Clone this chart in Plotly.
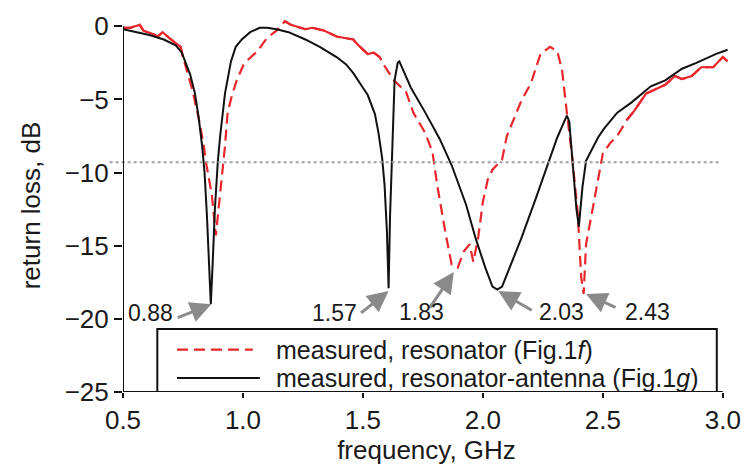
import plotly.graph_objects as go

# ---------------- data ----------------
f_black = [0.50, 0.55, 0.61, 0.67, 0.72, 0.745, 0.76, 0.78, 0.80, 0.815, 0.83, 0.84, 0.85, 0.858,
           0.866, 0.874, 0.883, 0.895, 0.905, 0.925, 0.95, 0.97, 0.995, 1.03, 1.07, 1.10, 1.14,
           1.19, 1.26, 1.32, 1.39, 1.43, 1.46, 1.50, 1.52, 1.55, 1.565, 1.58, 1.59, 1.60, 1.607,
           1.613, 1.618, 1.625, 1.632, 1.645, 1.652, 1.66, 1.70, 1.76, 1.82, 1.87, 1.93, 1.97,
           2.01, 2.04, 2.06, 2.08, 2.12, 2.16, 2.22, 2.27, 2.31, 2.35, 2.36, 2.375, 2.39, 2.40,
           2.415, 2.43, 2.455, 2.48, 2.505, 2.56, 2.62, 2.70, 2.76, 2.83, 2.89, 2.97, 3.02]
rl_black = [-0.2, -0.4, -0.6, -0.9, -1.3, -1.8, -2.4, -3.3, -4.6, -6.2, -8.2, -10.0, -13.0, -16.1,
            -19.0, -16.1, -12.5, -9.3, -7.5, -4.6, -2.4, -1.4, -0.9, -0.4, -0.1, -0.1, -0.2,
            -0.4, -0.9, -1.4, -2.1, -2.6, -3.2, -4.2, -4.7, -6.0, -7.3, -9.0, -10.8, -14.0, -17.9,
            -13.0, -10.5, -6.5, -3.7, -2.5, -2.4, -2.7, -4.2, -5.9, -7.7, -9.5, -12.2, -14.5,
            -16.5, -17.8, -18.0, -17.8, -16.2, -14.5, -11.8, -9.4, -7.6, -6.1, -6.5, -9.5, -12.5, -13.7,
            -11.0, -9.2, -8.4, -7.6, -7.0, -5.9, -5.2, -4.1, -3.7, -2.9, -2.5, -1.9, -1.6]

f_red = [0.50, 0.53, 0.55, 0.57, 0.585, 0.62, 0.645, 0.665, 0.70, 0.74, 0.75, 0.79, 0.817, 0.837,
         0.846, 0.87, 0.887, 0.905, 0.918, 0.925, 0.936, 0.953, 0.974, 1.003, 1.02, 1.06, 1.10,
         1.14, 1.175, 1.20, 1.26, 1.29, 1.34, 1.39, 1.46, 1.475, 1.52, 1.545, 1.57, 1.585, 1.63,
         1.68, 1.71, 1.76, 1.79, 1.81, 1.845, 1.87, 1.895, 1.92, 1.945, 1.96, 1.98, 2.00, 2.02,
         2.04, 2.08, 2.10, 2.16, 2.20, 2.24, 2.28, 2.31, 2.33, 2.35, 2.37, 2.395, 2.41, 2.42,
         2.43, 2.455, 2.475, 2.50, 2.53, 2.56, 2.60, 2.63, 2.68, 2.72, 2.76, 2.80, 2.83, 2.87,
         2.91, 2.96, 3.00, 3.02]
rl_red = [-0.1, -0.1, 0.0, 0.1, -0.3, -0.5, -0.7, -0.4, -0.9, -1.4, -2.1, -4.4, -6.4, -8.2,
          -9.3, -11.5, -14.3, -11.5, -9.3, -8.2, -5.9, -4.8, -3.7, -2.6, -2.3, -1.7, -0.8,
          -0.3, 0.35, 0.1, -0.2, -0.1, -0.3, -0.7, -0.9, -1.2, -1.9, -1.8, -2.1, -2.6, -3.7,
          -4.5, -5.9, -7.3, -8.6, -10.9, -14.2, -16.3, -16.5, -15.4, -14.9, -16.1, -14.5, -12.0, -10.5,
          -9.8, -9.1, -7.5, -5.1, -3.9, -1.9, -1.4, -1.7, -3.0, -5.9, -8.6, -12.7, -17.2, -18.3,
          -14.9, -12.7, -10.9, -8.7, -8.0, -7.5, -6.4, -5.8, -4.6, -4.3, -4.0, -3.4, -3.6, -3.4,
          -2.8, -2.8, -2.1, -2.4]

# bands where the measured red trace looks continuous in the reference
red_solid_bands = [(0.50, 0.75), (1.175, 1.57), (2.60, 3.02)]

threshold_db = -9.3

peak_labels = ["0.88", "1.57", "1.83", "2.03", "2.43"]
peak_f = [0.868, 1.607, 1.879, 2.064, 2.43]
peak_db = [-19.0, -18.1, -16.8, -18.1, -18.3]

legend_names = ["measured, resonator (Fig.1<i>f</i>)",
                "measured, resonator-antenna (Fig.1<i>g</i>)"]

RED = "#e8262b"
BLACK = "#111111"
GRAY = "#8a8a8a"
FONT = "Liberation Sans, Arial, sans-serif"
FS = 26
LEG_FS = 25
LEG_ROWS = [-22.1, -24.05]

fig = go.Figure()

fig.add_trace(go.Scatter(x=f_red, y=rl_red, mode="lines", name=legend_names[0],
                         line=dict(color=RED, width=2.2, dash="11px,6px"), showlegend=False))
for lo, hi in red_solid_bands:
    xs = [f for f in f_red if lo <= f <= hi]
    ys = [r for f, r in zip(f_red, rl_red) if lo <= f <= hi]
    fig.add_trace(go.Scatter(x=xs, y=ys, mode="lines", line=dict(color=RED, width=2.2),
                             showlegend=False, hoverinfo="skip"))
fig.add_trace(go.Scatter(x=f_black, y=rl_black, mode="lines", name=legend_names[1],
                         line=dict(color=BLACK, width=2), showlegend=False))

shapes = []
# threshold dotted line (extends a little left of the axis)
shapes.append(dict(type="line", xref="paper", yref="y", x0=-0.022, x1=0.985,
                   y0=threshold_db, y1=threshold_db,
                   line=dict(color="#a0a0a0", width=2, dash="dot")))
# axis lines
shapes.append(dict(type="line", xref="x", yref="y", x0=0.5, x1=0.5, y0=-25, y1=0,
                   line=dict(color=BLACK, width=2)))
shapes.append(dict(type="line", xref="x", yref="y", x0=0.5, x1=3.0, y0=-25, y1=-25,
                   line=dict(color=BLACK, width=2)))
# legend box
shapes.append(dict(type="rect", xref="x", yref="y", x0=0.643, x1=2.975, y0=-25, y1=-20.7,
                   line=dict(color=BLACK, width=2), fillcolor="white", layer="above"))
shapes.append(dict(type="line", xref="x", yref="y", x0=0.725, x1=1.041,
                   y0=LEG_ROWS[0], y1=LEG_ROWS[0],
                   line=dict(color=RED, width=2.2, dash="11px,6px"), layer="above"))
shapes.append(dict(type="line", xref="x", yref="y", x0=0.725, x1=1.07,
                   y0=LEG_ROWS[1], y1=LEG_ROWS[1],
                   line=dict(color=BLACK, width=2), layer="above"))

annotations = []
for name, yy in zip(legend_names, LEG_ROWS):
    annotations.append(dict(x=1.135, y=yy, xref="x", yref="y", text=name, showarrow=False,
                            xanchor="left", yanchor="middle", borderpad=0,
                            font=dict(family=FONT, size=LEG_FS, color="#1a1a1a")))

arrow_off = [(-35, 14), (-29, 23), (-25, 37), (35, 20), (31, 14)]
label_pos = [(0.613, -19.6), (1.383, -19.6), (1.744, -19.5), (2.326, -19.5), (2.686, -19.5)]
for lab, fx, dy, (ax, ay), (lx, ly) in zip(peak_labels, peak_f, peak_db, arrow_off, label_pos):
    annotations.append(dict(x=fx, y=dy, xref="x", yref="y", text="", showarrow=True,
                            ax=ax, ay=ay, arrowhead=2, arrowsize=1.4, arrowwidth=3,
                            arrowcolor=GRAY, standoff=0))
    annotations.append(dict(x=lx, y=ly, xref="x", yref="y", text=lab, showarrow=False,
                            font=dict(family=FONT, size=23, color="#1a1a1a")))

fig.update_layout(
    width=753, height=467,
    margin=dict(l=123, r=13, t=14, b=74),
    paper_bgcolor="white", plot_bgcolor="white",
    font=dict(family=FONT, size=FS, color="#1a1a1a"),
    showlegend=False,
    shapes=shapes, annotations=annotations,
    xaxis=dict(range=[0.5, 3.03], tickvals=[0.5, 1.0, 1.5, 2.0, 2.5, 3.0],
               ticktext=["0.5", "1.0", "1.5", "2.0", "2.5", "3.0"],
               ticks="outside", ticklen=5, tickwidth=2, tickcolor=BLACK,
               showgrid=False, zeroline=False, showline=False,
               title=dict(text="frequency, GHz", standoff=2, font=dict(size=FS)),
               tickfont=dict(size=FS)),
    yaxis=dict(range=[-25, 0.5], tickvals=[0, -5, -10, -15, -20, -25],
               ticks="outside", ticklen=8, tickwidth=2, tickcolor=BLACK,
               showgrid=False, zeroline=False, showline=False,
               title=dict(text="return loss, dB", standoff=16, font=dict(size=FS)),
               tickfont=dict(size=FS)),
)

fig.write_html("out.html")
